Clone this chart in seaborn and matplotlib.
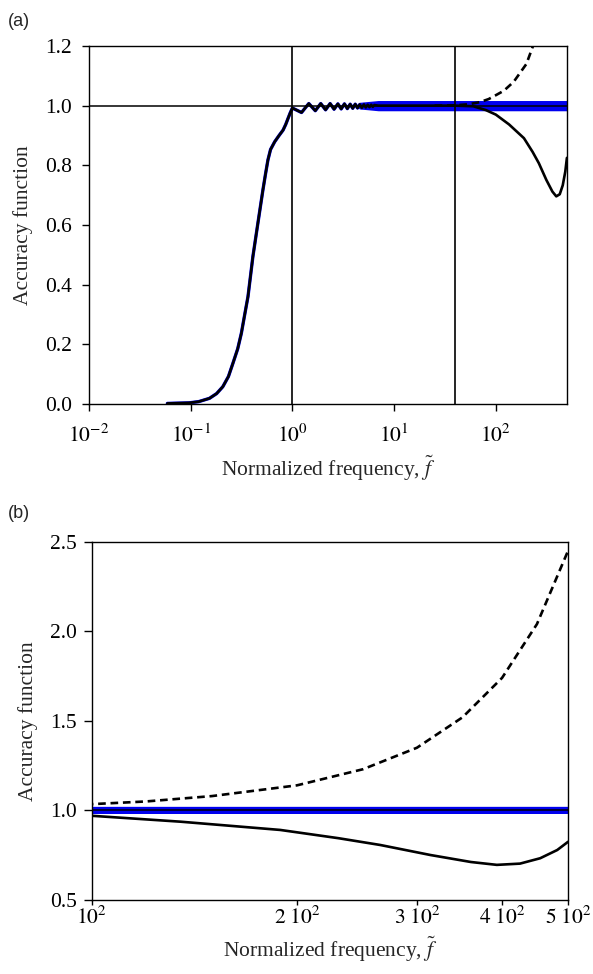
import matplotlib
matplotlib.use("Agg")
import matplotlib.pyplot as plt
from matplotlib.ticker import NullLocator
import numpy as np
import pandas as pd
import seaborn as sns

# ---------------- data ----------------
# rising part shared by the exact (blue) and approximate (black) curves
rise_f = [0.059, 0.097, 0.12, 0.153, 0.18, 0.207, 0.235, 0.26, 0.29, 0.315, 0.34,
          0.366, 0.409, 0.458, 0.513, 0.545, 0.575, 0.61, 0.67, 0.74, 0.81, 0.86,
          0.906, 0.95, 1.0]
rise_y = [0.002, 0.004, 0.008, 0.019, 0.035, 0.058, 0.092, 0.136, 0.185, 0.237, 0.30,
          0.36, 0.494, 0.606, 0.717, 0.772, 0.818, 0.853, 0.879, 0.900, 0.918, 0.937,
          0.957, 0.975, 0.992]
# ripples after f = 1
osc_f = [1.23, 1.45, 1.68, 1.9, 2.12, 2.35, 2.57, 2.8, 3.02, 3.25, 3.47, 3.7,
         3.92, 4.15, 4.37, 4.6, 4.82, 5.05, 5.27, 5.5, 5.72, 5.95, 6.17, 6.4]
osc_y = [0.977, 1.007, 0.983, 1.007, 0.986, 1.007, 0.988, 1.006, 0.989, 1.006,
         0.990, 1.005, 0.991, 1.005, 0.992, 1.004, 0.993, 1.004, 0.994, 1.003,
         0.995, 1.003, 0.996, 1.002]
# exact function beyond the ripples: flat at 1 with dense small oscillation band
band_f = [4.6, 7.0, 20.0, 100.0, 500.0]
band_mid = [1.0, 1.0, 1.0, 1.0, 1.0]
band_half = [0.007, 0.013, 0.013, 0.013, 0.013]
# approximate solution (solid black) at high frequency
flat_f = [7.0, 20.0, 40.0]
flat_y = [1.0, 1.0, 1.0]
tail_f = [60, 80, 100, 135, 189, 230, 265, 314, 360, 393, 425, 455, 482, 500]
tail_y = [0.998, 0.985, 0.970, 0.937, 0.891, 0.845, 0.807, 0.751, 0.712, 0.696,
          0.703, 0.733, 0.779, 0.825]
# second approximation (dashed black)
dash_f = [25, 40, 55, 70, 85, 100, 120, 150, 200, 250, 300, 350, 400, 450, 500]
dash_y = [1.0, 1.001, 1.005, 1.012, 1.022, 1.035, 1.05, 1.08, 1.14, 1.23, 1.35,
          1.52, 1.74, 2.04, 2.45]
# reference lines
ref_level = 1.0
ref_freqs = [1.0, 40.0]

# tick labels
top_xticks = [0.01, 0.1, 1, 10, 100]
top_xlabels = ["$10^{-2}$", "$10^{-1}$", "$10^{0}$", "$10^{1}$", "$10^{2}$"]
top_yticks = [0.0, 0.2, 0.4, 0.6, 0.8, 1.0, 1.2]
bot_xticks = [100, 200, 300, 400, 500]
bot_xlabels = ["$10^2$", r"$2\ 10^2$", r"$3\ 10^2$", r"$4\ 10^2$", r"$5\ 10^2$"]
bot_yticks = [0.5, 1.0, 1.5, 2.0, 2.5]

# ---------------- assemble series ----------------
exact = pd.DataFrame({"f": rise_f + osc_f + [7.0, 500.0],
                      "A": rise_y + osc_y + [1.0, 1.0]})
approx = pd.DataFrame({"f": rise_f + osc_f + flat_f + tail_f,
                       "A": rise_y + osc_y + flat_y + tail_y})
approx2 = pd.DataFrame({"f": dash_f, "A": dash_y})
band = pd.DataFrame({"f": band_f, "mid": band_mid, "half": band_half})

# ---------------- style ----------------
sns.set_style("ticks")
plt.rcParams["font.family"] = ["Liberation Serif", "DejaVu Serif"]
plt.rcParams["mathtext.fontset"] = "stix"
plt.rcParams["axes.linewidth"] = 1.0
plt.rcParams["axes.edgecolor"] = "black"
plt.rcParams["xtick.color"] = "black"
plt.rcParams["ytick.color"] = "black"
FS = 15.5

fig = plt.figure(figsize=(5.93, 9.74), dpi=100)
ax1 = fig.add_axes([0.150, 0.5852, 0.806, 0.3676])
ax2 = fig.add_axes([0.155, 0.0760, 0.803, 0.3678])

BLUE = "#0000ee"


def draw(ax, show_refs):
    ax.set_xscale("log")
    ax.fill_between(band["f"], band["mid"] - band["half"], band["mid"] + band["half"],
                    color=BLUE, lw=1.8, edgecolor=BLUE, zorder=1)
    sns.lineplot(data=exact, x="f", y="A", ax=ax, color=BLUE, lw=2.4,
                 estimator=None, sort=False, zorder=2)
    ax.axhline(ref_level, color="black", lw=1.1, zorder=3)
    if show_refs:
        for fr in ref_freqs:
            ax.axvline(fr, color="black", lw=1.2, zorder=3)
    sns.lineplot(data=approx, x="f", y="A", ax=ax, color="black", lw=1.9,
                 estimator=None, sort=False, zorder=4)
    sns.lineplot(data=approx2, x="f", y="A", ax=ax, color="black", lw=1.9,
                 estimator=None, sort=False, zorder=4, dashes=False,
                 linestyle=(0, (2.9, 1.8)))
    ax.xaxis.set_minor_locator(NullLocator())
    ax.yaxis.set_minor_locator(NullLocator())
    ax.tick_params(axis="both", which="major", direction="out",
                   width=1.0, labelsize=FS, top=False, right=False)
    for s in ax.spines.values():
        s.set_visible(True)
        s.set_color("black")


draw(ax1, True)
ax1.set_xlim(0.01, 500)
ax1.set_ylim(0.0, 1.2)
ax1.set_xticks(top_xticks)
ax1.set_xticklabels(top_xlabels)
ax1.set_yticks(top_yticks)
ax1.set_yticklabels([f"{v:.1f}" for v in top_yticks])
ax1.tick_params(axis="x", length=5, pad=10)
ax1.tick_params(axis="y", length=5, pad=7)
ax1.set_ylabel("Accuracy function", fontsize=FS, labelpad=9)
ax1.set_xlabel(r"Normalized frequency, $\tilde{f}$", fontsize=FS, labelpad=5)

draw(ax2, False)
ax2.set_xlim(100, 500)
ax2.set_ylim(0.5, 2.5)
ax2.set_xticks(bot_xticks)
ax2.set_xticklabels(bot_xlabels)
ax2.set_yticks(bot_yticks)
ax2.set_yticklabels([f"{v:.1f}" for v in bot_yticks])
ax2.xaxis.set_minor_locator(NullLocator())
ax2.tick_params(axis="x", length=3.6, pad=1.5)
ax2.tick_params(axis="y", length=6, pad=4.7)
ax2.set_ylabel("Accuracy function", fontsize=FS, labelpad=9)
ax2.set_xlabel(r"Normalized frequency, $\tilde{f}$", fontsize=FS, labelpad=4)

fig.text(0.013, 0.978, "(a)", fontsize=13, family="Liberation Sans", va="center")
fig.text(0.013, 0.473, "(b)", fontsize=13, family="Liberation Sans", va="center")

fig.savefig("out.png", dpi=100)
